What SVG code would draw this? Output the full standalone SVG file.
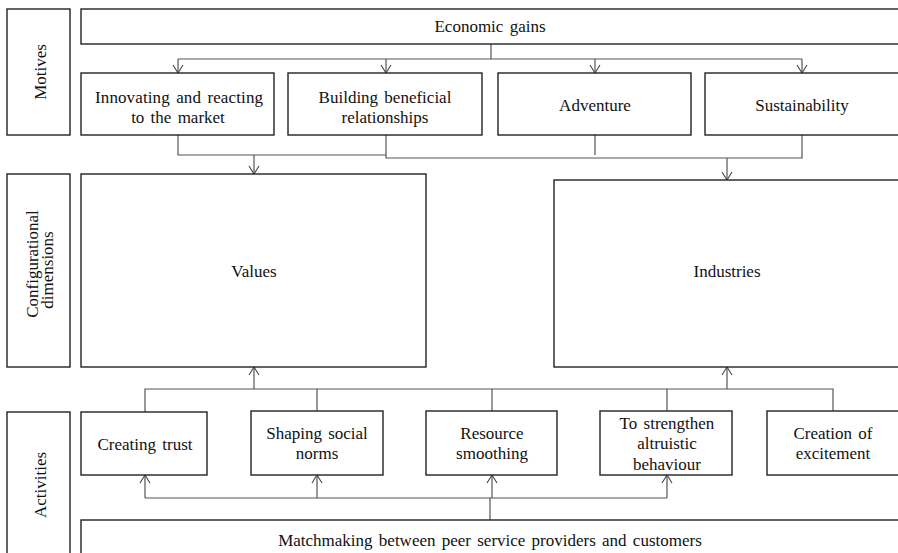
<svg xmlns="http://www.w3.org/2000/svg" width="898" height="553" viewBox="0 0 898 553">
<defs>
<marker id="ah" markerWidth="12" markerHeight="12" refX="10" refY="6" orient="auto" markerUnits="userSpaceOnUse" viewBox="0 0 12 12">
<path d="M2,1 L10,6 L2,11" fill="none" stroke="#444" stroke-width="1.1"/>
</marker>
<style>
.b{fill:#fff;stroke:#222;stroke-width:1.4}
.t{font-family:"Liberation Serif","Times New Roman",serif;font-size:17px;fill:#111;text-anchor:middle;word-spacing:2px}
.c{fill:none;stroke:#555;stroke-width:1.2}
.a{fill:none;stroke:#555;stroke-width:1.2;marker-end:url(#ah)}
</style>
</defs>
<rect width="898" height="553" fill="#fff"/>
<g id="connectors">
<path class="c" d="M491,44 V59 M178,59 H802"/>
<path class="a" d="M178,59 V73"/>
<path class="a" d="M386,59 V73"/>
<path class="a" d="M595,59 V73"/>
<path class="a" d="M802,59 V73"/>
<path class="c" d="M178,135 V155 H386 M386,135 V158 H802 V135 M595,135 V155"/>
<path class="a" d="M254,155 V174"/>
<path class="a" d="M727,158 V180"/>
<path class="c" d="M145,412 V389 H833 V411 M317,411 V389 M492,411 V389 M667,411 V389"/>
<path class="a" d="M254,389 V367"/>
<path class="a" d="M727,389 V367"/>
<path class="c" d="M490,520 V498 M145,498 H667"/>
<path class="a" d="M145,498 V475"/>
<path class="a" d="M317,498 V475"/>
<path class="a" d="M492,498 V475"/>
<path class="a" d="M667,498 V475"/>
</g>
<g id="motives-label"><rect class="b" x="7" y="9" width="63" height="126"/><text class="t" transform="translate(46,72) rotate(-90)">Motives</text></g>
<g id="config-label"><rect class="b" x="7" y="174" width="63" height="193"/><text class="t" transform="translate(38,264) rotate(-90)">Configurational</text><text class="t" transform="translate(53,270) rotate(-90)">dimensions</text></g>
<g id="activities-label"><rect class="b" x="7" y="412" width="63" height="150"/><text class="t" transform="translate(46,485) rotate(-90)">Activities</text></g>
<g id="economic-gains"><rect class="b" x="81" y="9" width="830" height="35"/><text class="t" x="490" y="32">Economic gains</text></g>
<g id="innovating"><rect class="b" x="81" y="73" width="193" height="62"/><text class="t" x="179" y="103" textLength="168" lengthAdjust="spacing">Innovating and reacting</text><text class="t" x="178" y="123">to the market</text></g>
<g id="building"><rect class="b" x="288" y="73" width="194" height="62"/><text class="t" x="385" y="103">Building beneficial</text><text class="t" x="385" y="123">relationships</text></g>
<g id="adventure"><rect class="b" x="498" y="73" width="193" height="62"/><text class="t" x="595" y="111">Adventure</text></g>
<g id="sustainability"><rect class="b" x="705" y="73" width="206" height="62"/><text class="t" x="802" y="111">Sustainability</text></g>
<g id="values"><rect class="b" x="81" y="174" width="345" height="193"/><text class="t" x="254" y="277">Values</text></g>
<g id="industries"><rect class="b" x="554" y="180" width="357" height="187"/><text class="t" x="727" y="277">Industries</text></g>
<g id="creating-trust"><rect class="b" x="81" y="412" width="126" height="63"/><text class="t" x="145" y="450">Creating trust</text></g>
<g id="shaping"><rect class="b" x="251" y="411" width="132" height="64"/><text class="t" x="317" y="439">Shaping social</text><text class="t" x="317" y="459">norms</text></g>
<g id="resource"><rect class="b" x="426" y="411" width="131" height="64"/><text class="t" x="492" y="439">Resource</text><text class="t" x="492" y="459">smoothing</text></g>
<g id="strengthen"><rect class="b" x="600" y="411" width="132" height="64"/><text class="t" x="667" y="429">To strengthen</text><text class="t" x="667" y="449">altruistic</text><text class="t" x="667" y="470">behaviour</text></g>
<g id="excitement"><rect class="b" x="767" y="411" width="144" height="64"/><text class="t" x="833" y="439">Creation of</text><text class="t" x="833" y="459">excitement</text></g>
<g id="matchmaking"><rect class="b" x="81" y="520" width="830" height="45"/><text class="t" x="490" y="546">Matchmaking between peer service providers and customers</text></g>
</svg>
